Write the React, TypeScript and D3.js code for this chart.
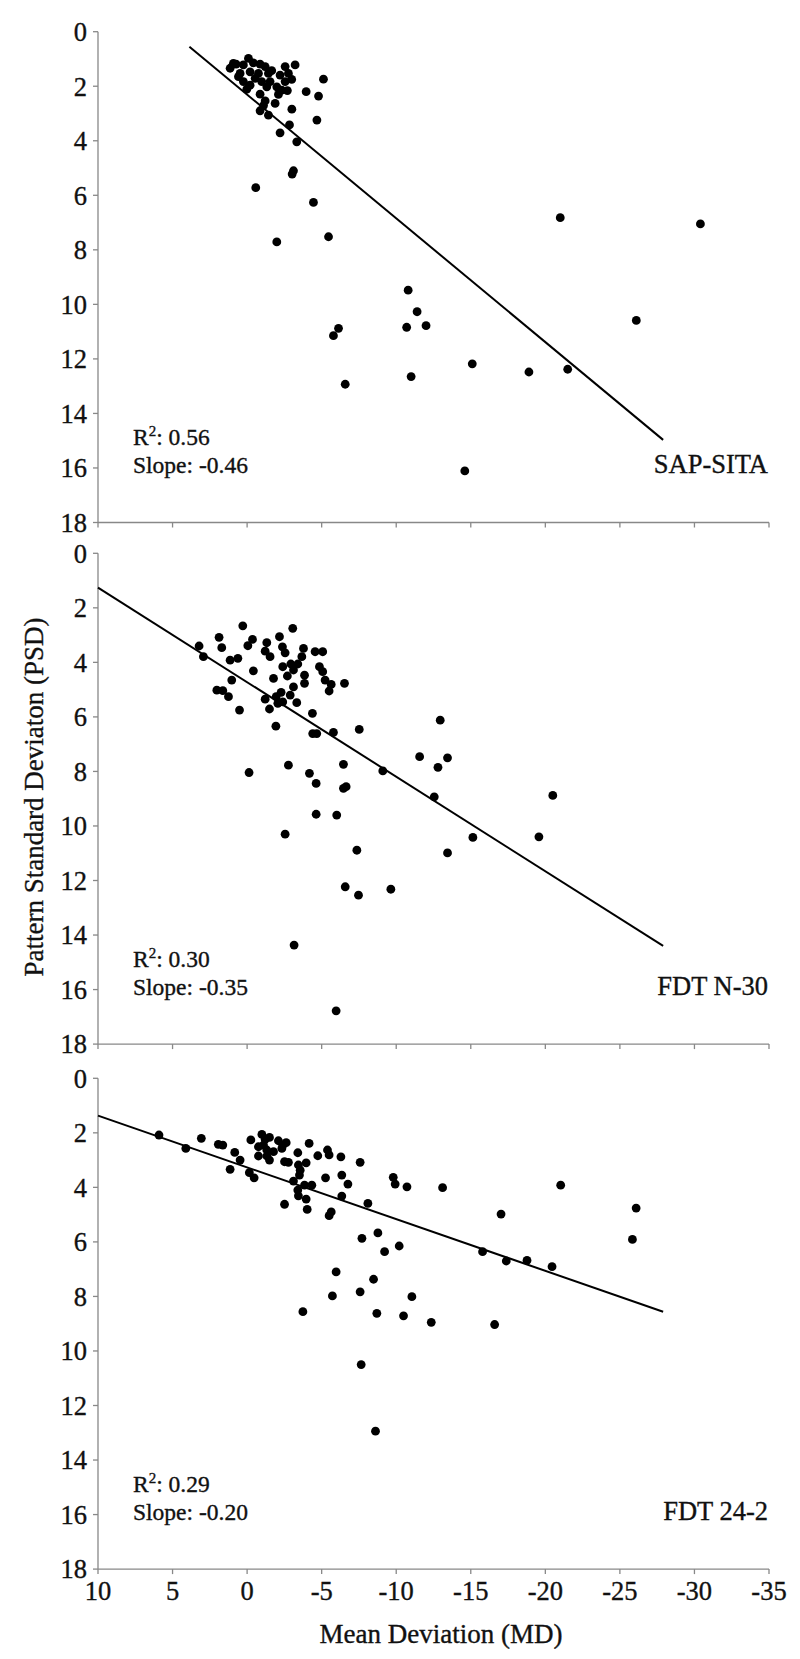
import React from "react";
import * as d3 from "d3";

// ---- Data: [Mean Deviation (MD), Pattern Standard Deviation (PSD)] ----
const sapSitaPoints: [number, number][] = [
  [1.14, 1.34], [0.74, 1.19], [-0.09, 0.98], [-0.42, 1.14], [-0.87, 1.19], [-1.21, 1.28], [0.25, 1.22],
  [0.47, 1.53], [-0.2, 1.47], [-0.76, 1.53], [-1.43, 1.53], [0.25, 1.83], [-0.2, 1.96], [-0.98, 1.83],
  [0.02, 2.11], [-1.54, 1.83], [-1.65, 1.43], [-2.21, 1.59], [-2.55, 1.28], [-3.22, 1.22], [-2.77, 1.53],
  [-2.99, 1.75], [-2.55, 1.83], [-1.99, 2.02], [-2.32, 2.14], [-2.7, 2.16], [-2.1, 2.3], [-0.87, 2.29],
  [-1.21, 2.54], [-1.1, 2.71], [-1.88, 2.63], [-0.87, 2.9], [-1.43, 3.06], [-3.0, 2.84], [-2.84, 3.42],
  [-2.21, 3.71], [-3.33, 4.04], [-3.96, 2.2], [-5.12, 1.74], [-4.79, 2.36], [-4.68, 3.24], [0.92, 1.16],
  [-0.54, 1.71], [0.58, 1.65], [-1.32, 2.02],
  [-3.11, 5.1], [-3.02, 5.22], [-0.58, 5.72], [-4.45, 6.26], [-1.99, 7.71], [-5.46, 7.52],
  [-6.13, 10.88], [-5.79, 11.15], [-6.58, 12.93],
  [-21.0, 6.82], [-30.4, 7.05], [-10.8, 9.48], [-11.4, 10.27], [-10.7, 10.84], [-12.0, 10.78],
  [-11.0, 12.65], [-15.1, 12.18], [-18.9, 12.48], [-21.5, 12.38], [-26.1, 10.59], [-14.6, 16.11],
];

const fdtN30Points: [number, number][] = [
  [3.22, 3.4], [2.93, 3.79], [1.88, 3.08], [1.7, 3.46], [1.14, 3.92], [0.62, 3.85], [0.29, 2.66],
  [-0.05, 3.39], [-0.36, 3.16], [-0.42, 4.31], [1.03, 4.65], [2.03, 5.02], [1.63, 5.04], [1.25, 5.26],
  [0.51, 5.75], [-0.13, 8.04], [-1.32, 3.28], [-1.21, 3.59], [-1.54, 3.79], [-2.17, 3.06], [-2.37, 3.43],
  [-2.55, 3.65], [-3.06, 2.75], [-2.39, 4.16], [-2.93, 4.06], [-2.7, 4.5], [-3.11, 4.28], [-3.4, 4.06],
  [-3.67, 3.79], [-3.78, 3.49], [-1.77, 4.59], [-3.11, 4.9], [-3.85, 4.47], [-3.85, 4.77], [-1.21, 5.35],
  [-1.5, 5.71], [-1.95, 5.26], [-2.28, 5.1], [-2.06, 5.5], [-2.39, 5.45], [-2.89, 5.2], [-3.33, 5.48],
  [-1.93, 6.34], [-2.77, 7.77], [-4.38, 5.87], [-4.56, 3.61], [-5.07, 3.61], [-4.85, 4.16], [-5.07, 4.34],
  [-5.23, 4.65], [-5.64, 4.81], [-5.5, 5.05], [-6.53, 4.77], [-4.4, 6.61], [-4.67, 6.61], [-5.79, 6.57],
  [-7.52, 6.46], [-4.18, 8.07], [-4.63, 8.44], [-6.46, 7.74], [-6.46, 8.62], [-6.64, 8.56], [-9.1, 7.98],
  [-4.63, 9.57], [-6.01, 9.6],
  [-2.55, 10.3], [-7.36, 10.89], [-6.58, 12.23], [-7.47, 12.54], [-9.64, 12.32], [-3.15, 14.37], [-5.97, 16.78],
  [-12.95, 6.12], [-11.57, 7.46], [-13.44, 7.5], [-12.8, 7.85], [-12.55, 8.93], [-20.5, 8.88],
  [-15.14, 10.42], [-19.57, 10.4], [-13.44, 10.99],
];

const fdt242Points: [number, number][] = [
  [5.91, 2.08], [4.11, 2.57], [3.07, 2.2], [1.93, 2.42], [1.63, 2.45], [0.83, 2.72], [0.47, 3.0],
  [1.14, 3.34], [-0.15, 3.46], [-0.47, 3.65], [-0.25, 2.26], [-0.99, 2.06], [-0.76, 2.51], [-1.21, 2.24],
  [-1.5, 2.17], [-1.1, 2.45], [-1.32, 2.63], [-1.77, 2.69], [-0.76, 2.85], [-1.32, 2.85], [-1.5, 3.0],
  [-2.1, 2.29], [-2.4, 2.45], [-2.62, 2.36], [-2.33, 2.57], [-2.51, 3.06], [-2.77, 3.08], [-3.4, 2.73],
  [-4.16, 2.39], [-3.44, 3.18], [-3.56, 3.37], [-3.96, 3.1], [-4.74, 2.84], [-3.51, 3.55], [-3.11, 3.77],
  [-3.4, 4.1], [-3.44, 4.31], [-3.85, 3.92], [-4.34, 3.92], [-3.96, 4.43], [-4.03, 4.81], [-2.51, 4.62],
  [-3.74, 8.56], [-5.39, 2.63], [-5.5, 2.81], [-5.26, 3.65], [-6.29, 2.88], [-6.35, 3.55], [-6.76, 3.88],
  [-6.35, 4.32], [-7.58, 3.08], [-5.64, 4.9], [-5.5, 5.04], [-8.1, 4.59], [-7.7, 5.87], [-8.77, 5.67],
  [-9.22, 6.36], [-5.97, 7.1], [-8.48, 7.37], [-5.72, 7.98], [-7.58, 7.83], [-8.7, 8.62], [-9.8, 3.63],
  [-9.93, 3.88], [-10.2, 6.15],
  [-10.72, 3.98], [-13.11, 4.01], [-21.03, 3.92], [-26.09, 4.76], [-17.03, 4.98], [-15.79, 6.36],
  [-17.38, 6.7], [-18.77, 6.68], [-20.45, 6.91], [-25.84, 5.91], [-11.05, 8.01], [-10.49, 8.71],
  [-12.35, 8.95], [-16.6, 9.03],
  [-7.65, 10.5], [-8.61, 12.94],
];

const panelNames = ["SAP-SITA", "FDT N-30", "FDT 24-2"];
const rSquared = ["0.56", "0.30", "0.29"];
const slopeLabels = ["-0.46", "-0.35", "-0.20"];
// regression line: [MD start, PSD at start, MD end, PSD at end]
const fitLines: [number, number, number, number][] = [
  [3.87, 0.55, -27.9, 14.97],
  [10, 1.26, -27.9, 14.4],
  [10, 1.37, -27.9, 8.56],
];
const xTicks = [10, 5, 0, -5, -10, -15, -20, -25, -30, -35];
const yTicks = [0, 2, 4, 6, 8, 10, 12, 14, 16, 18];

const allPoints = [sapSitaPoints, fdtN30Points, fdt242Points];

const W = 800;
const H = 1659;
const axisX = 98;
const axisRight = 769;
const panelTops = [31.7, 553.3, 1078.3];
const panelH = 490.8;
const FONT = "'Liberation Serif', 'Times New Roman', serif";
const AXIS_COLOR = "#888888";
const TEXT_COLOR = "#111";
const textStyle = { stroke: "#111", strokeWidth: 0.35 };

export default function App() {
  const x = d3.scaleLinear().domain([10, -35]).range([axisX, axisRight]);

  return (
    <svg
      width={W}
      height={H}
      style={{ position: "absolute", left: 0, top: 0, background: "#fff" }}
      fontFamily={FONT}
    >
      <rect x={0} y={0} width={W} height={H} fill="#fff" />
      {allPoints.map((pts, i) => {
        const top = panelTops[i];
        const y = d3.scaleLinear().domain([0, 18]).range([top, top + panelH]);
        const [x0, y0, x1, y1] = fitLines[i];
        const line = d3.line<[number, number]>()
          .x((d) => x(d[0]))
          .y((d) => y(d[1]));
        const bottom = y(18);
        return (
          <g key={i}>
            {/* y axis */}
            <line x1={axisX} x2={axisX} y1={y(0)} y2={bottom} stroke={AXIS_COLOR} strokeWidth={1.3} />
            {yTicks.map((t) => (
              <g key={t}>
                <line x1={axisX - 5} x2={axisX} y1={y(t)} y2={y(t)} stroke={AXIS_COLOR} strokeWidth={1.3} />
                <text
                  x={axisX - 11}
                  y={y(t)}
                  dy="0.35em"
                  textAnchor="end"
                  fontSize={26.5}
                  fill={TEXT_COLOR}
                  style={textStyle}
                >
                  {t}
                </text>
              </g>
            ))}
            {/* x axis */}
            <line x1={axisX} x2={axisRight} y1={bottom} y2={bottom} stroke={AXIS_COLOR} strokeWidth={1.3} />
            {xTicks.map((t) => (
              <line key={t} x1={x(t)} x2={x(t)} y1={bottom} y2={bottom + 5} stroke={AXIS_COLOR} strokeWidth={1.3} />
            ))}
            {i === 2 &&
              xTicks.map((t) => (
                <text
                  key={"l" + t}
                  x={x(t)}
                  y={bottom + 31}
                  textAnchor="middle"
                  fontSize={26.5}
                  fill={TEXT_COLOR}
                  style={textStyle}
                >
                  {t}
                </text>
              ))}
            {/* points */}
            {pts.map((p, k) => (
              <circle key={k} cx={x(p[0])} cy={y(p[1])} r={4.4} fill="#000" />
            ))}
            {/* fit line */}
            <path
              d={line([[x0, y0], [x1, y1]]) || ""}
              stroke="#000"
              strokeWidth={2}
              fill="none"
            />
            {/* stats */}
            <text x={133} y={top + 413.5} fontSize={23.5} fill={TEXT_COLOR} style={textStyle}>
              R<tspan dy={-9} fontSize={15}>2</tspan>
              <tspan dy={9}>: {rSquared[i]}</tspan>
            </text>
            <text x={133} y={top + 441.5} fontSize={23.5} fill={TEXT_COLOR} style={textStyle}>
              Slope: {slopeLabels[i]}
            </text>
            <text
              x={768}
              y={top + 441.5}
              textAnchor="end"
              fontSize={26.5}
              fill={TEXT_COLOR}
              style={textStyle}
            >
              {panelNames[i]}
            </text>
          </g>
        );
      })}
      <text x={441} y={1643} textAnchor="middle" fontSize={27} fill={TEXT_COLOR} style={textStyle}>
        Mean Deviation (MD)
      </text>
      <text
        transform={`translate(43, 797) rotate(-90)`}
        textAnchor="middle"
        fontSize={27}
        fill={TEXT_COLOR}
        style={textStyle}
      >
        Pattern Standard Deviaton (PSD)
      </text>
    </svg>
  );
}
